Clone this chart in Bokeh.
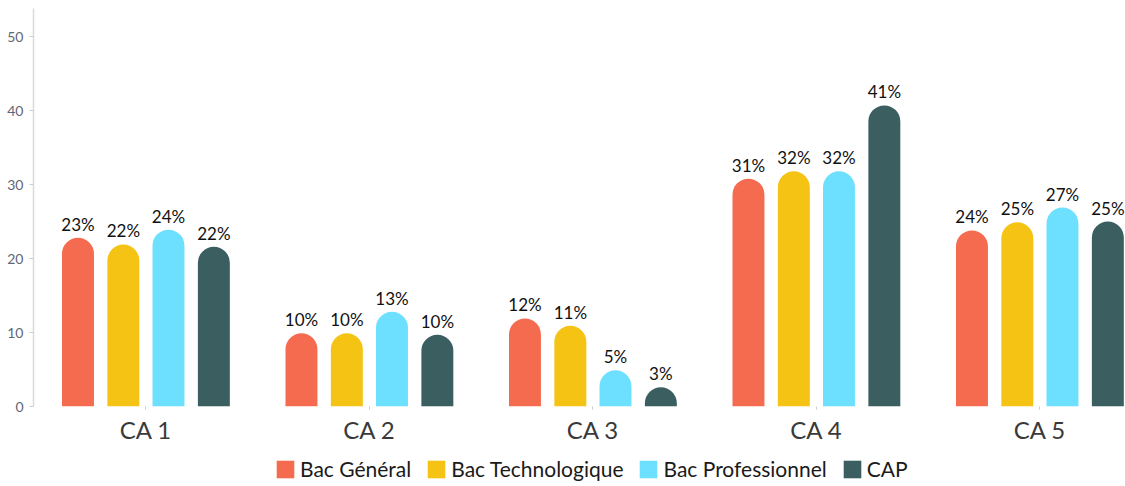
from bokeh.plotting import figure
from bokeh.layouts import column
from bokeh.models import ColumnDataSource, Range1d, FixedTicker, Legend, LegendItem
from bokeh.transform import dodge
from bokeh.core.properties import value
from bokeh.embed import file_html
from bokeh.resources import INLINE

categories = ["CA 1", "CA 2", "CA 3", "CA 4", "CA 5"]
series_names = ["Bac Général", "Bac Technologique", "Bac Professionnel", "CAP"]
bac_general = [22.8, 9.9, 11.9, 30.8, 23.8]
bac_techno = [21.9, 9.9, 10.9, 31.8, 24.9]
bac_pro = [23.9, 12.8, 4.9, 31.8, 26.9]
cap = [21.6, 9.7, 2.6, 40.7, 25.0]
y_ticks = [0, 10, 20, 30, 40, 50]

colors = ["#f56b4f", "#f5c313", "#6de0ff", "#3b5e61"]
offsets = [-0.304, -0.101, 0.101, 0.304]
FONT = "Lato"

# category slots: category i occupies [i, i+1], centred at i + 0.5
cat_pos = [i + 0.5 for i in range(len(categories))]

p = figure(
    frame_width=1092, frame_height=398,
    x_range=Range1d(-0.003, 4.883),
    y_range=Range1d(0, 53.8),
    output_backend="svg", toolbar_location=None,
    min_border_left=33, min_border_right=0, min_border_top=8, min_border_bottom=44,
)
p.outline_line_color = None
p.xgrid.grid_line_color = None
p.ygrid.grid_line_color = None

# legend strip (separate figure below the chart)
lg = figure(width=1125, height=35, output_backend="svg", toolbar_location=None,
            x_range=(0, 1), y_range=(0, 1),
            min_border_left=0, min_border_right=0, min_border_top=0, min_border_bottom=0)
lg.outline_line_color = None
lg.axis.visible = False
lg.grid.visible = False

items = []
for name, vals, col, off in zip(series_names, [bac_general, bac_techno, bac_pro, cap], colors, offsets):
    src = ColumnDataSource(dict(x=cat_pos, top=vals, label=[f"{round(v)}%" for v in vals]))
    p.vbar(x=dodge("x", off), top="top", bottom=0, width=0.143,
           source=src, fill_color=col, line_color=None, border_radius=(16, 16, 0, 0))
    p.text(x=dodge("x", off), y="top", text="label", source=src,
           text_align="center", text_baseline="bottom", y_offset=-3,
           text_font=value(FONT), text_font_size="17px", text_color="#111111")
    sw = lg.vbar(x=[5], top=[5], bottom=[4], width=0.1, fill_color=col, line_color=None)
    items.append(LegendItem(label=name, renderers=[sw]))

# y axis
p.yaxis.ticker = FixedTicker(ticks=y_ticks)
p.yaxis.minor_tick_line_color = None
p.yaxis.major_tick_in = 0
p.yaxis.major_tick_out = 4
p.yaxis.major_tick_line_color = "#c8ccd4"
p.yaxis.axis_line_color = "#d9d9d9"
p.yaxis.axis_line_width = 1.5
p.yaxis.major_label_text_font = FONT
p.yaxis.major_label_text_font_size = "14px"
p.yaxis.major_label_text_color = "#5f6678"
p.yaxis.major_label_standoff = 6

# x axis (category labels at slot centres)
p.xaxis.ticker = FixedTicker(ticks=cat_pos)
p.xaxis.major_label_overrides = {pos: cat for pos, cat in zip(cat_pos, categories)}
p.xaxis.minor_tick_line_color = None
p.xaxis.axis_line_color = None
p.xaxis.major_tick_in = 0
p.xaxis.major_tick_out = 3
p.xaxis.major_tick_line_color = "#c8ccd4"
p.xaxis.major_label_text_font = FONT
p.xaxis.major_label_text_font_size = "24px"
p.xaxis.major_label_text_color = "#3a3a3a"
p.xaxis.major_label_standoff = 5

legend = Legend(items=items, orientation="horizontal", location=(241, 4),
                label_text_font=FONT, label_text_font_size="21px", label_text_color="#1a1a1a",
                glyph_width=22, glyph_height=22, label_standoff=4, spacing=14,
                border_line_color=None, background_fill_alpha=0, padding=0, margin=0)
lg.add_layout(legend, "center")

layout = column(p, lg, spacing=0)
open("out.html", "w").write(file_html(layout, INLINE))
